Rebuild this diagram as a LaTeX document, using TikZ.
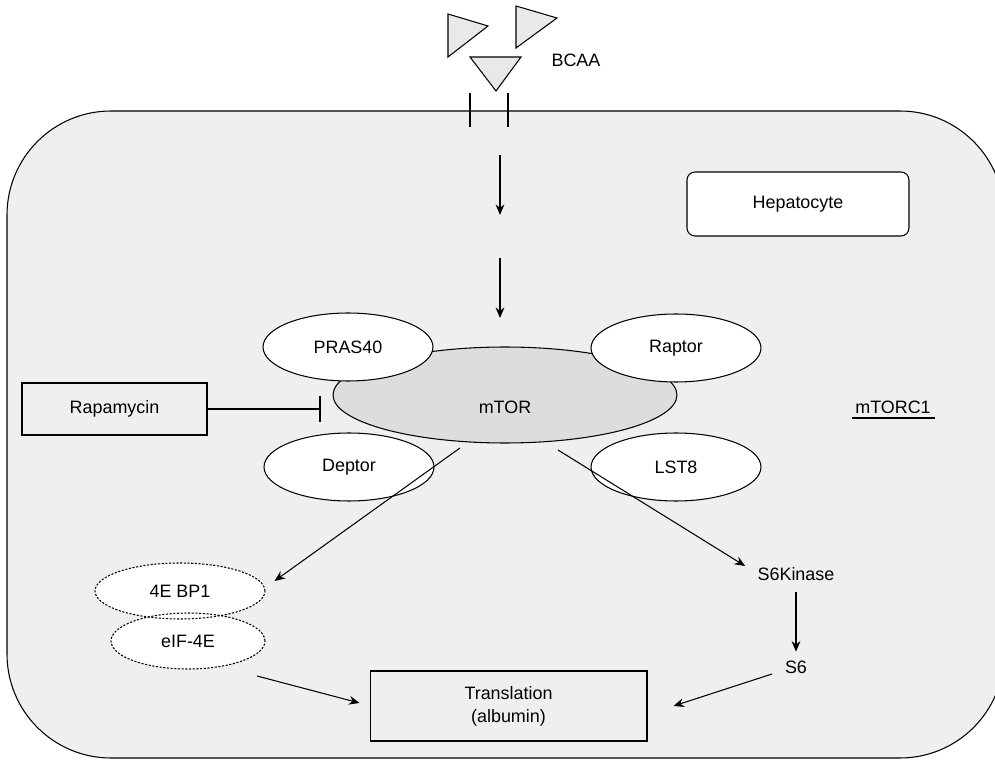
\documentclass[tikz,border=0pt]{standalone}
\usepackage{fontspec}
\setmainfont{Liberation Sans}
\usetikzlibrary{shapes.geometric,arrows.meta,calc}

\definecolor{cellgray}{RGB}{238,239,239}
\definecolor{torgray}{RGB}{220,221,221}
\definecolor{aagray}{RGB}{232,233,233}

\tikzset{
  sub/.style={ellipse, draw=black, fill=white, minimum width=3.4cm, minimum height=1.36cm, inner sep=0pt},
  dotsub/.style={ellipse, draw=black, dash pattern=on 1.2pt off 0.9pt, minimum height=1.12cm, inner sep=0pt},
  tag/.style={inner sep=0pt},
  link/.style={-{Stealth[length=6pt,width=5pt]}},
}

\begin{document}
\begin{tikzpicture}[x=0.02cm, y=-0.02cm, font=\fontsize{10.2}{13}\selectfont, line width=0.6pt]
        \useasboundingbox (0,0) rectangle (995,760);

        % cell
        \draw[fill=cellgray, rounded corners=2.08cm] (7,111) rectangle (1004,758);

        % amino acids and channel
        \filldraw[fill=aagray, draw=black] (448,14) -- (488,26) -- (448,57) -- cycle;
        \filldraw[fill=aagray, draw=black] (516,6) -- (557,18) -- (516,48) -- cycle;
        \filldraw[fill=aagray, draw=black] (470,57) -- (521,57) -- (496,91) -- cycle;
        \node[tag] (bcaa) at (576,60) {BCAA};
        \draw (470,93) -- (470,127);
        \draw (508,93) -- (508,127);

        \coordinate (in1) at (500,155);
        \coordinate (in2) at (500,215);
        \coordinate (in3) at (500,258);
        \coordinate (in4) at (500,318);
        \draw[link] (in1) -- (in2);
        \draw[link] (in3) -- (in4);

        \node[draw, fill=white, rounded corners=0.16cm, minimum width=4.44cm, minimum height=1.28cm] (hep) at (798,204) {Hepatocyte};

        % mTORC1 complex
        \node[ellipse, draw, fill=torgray, minimum width=6.88cm, minimum height=1.92cm, label={[yshift=-0.24cm]center:mTOR}] (mtor) at (505,395) {};
        \node[sub] (pras) at (348,347) {PRAS40};
        \node[sub] (raptor) at (676,348) {Raptor};
        \node[sub] (deptor) at (349,467) {Deptor};
        \node[sub] (lst) at (676,467) {LST8};

        \node[tag] (torc) at (893,407) {mTORC1};
        \draw ($(torc.center)+(-41,11)$) -- ($(torc.center)+(42,11)$);

        \node[draw, minimum width=3.7cm, minimum height=1.04cm] (rapa) at (114.5,409) {Rapamycin};
        \draw[-{Bar[width=0.54cm]}, shorten >=0.24cm] (rapa.east) -- (rapa.east -| mtor.west);

        % 4E BP1 / eIF-4E
        \fill[white] (180,591) ellipse [x radius=85, y radius=28];
        \fill[white] (188,641) ellipse [x radius=77, y radius=28];
        \node[dotsub, minimum width=3.4cm] (bp1) at (180,591) {4E BP1};
        \node[dotsub, minimum width=3.08cm] (eif) at (188,641) {eIF-4E};

        % S6 branch
        \node[tag] (s6k) at (796,574) {S6Kinase};
        \node[tag] (s6) at (796,667) {S6};

        \node[draw, minimum width=5.54cm, minimum height=1.4cm, align=center] (box) at (508.5,706) {Translation\\(albumin)};

        \coordinate (out1) at (460,448);
        \coordinate (out2) at (558,450);
        \coordinate (eifout) at (257,676);
        \coordinate (s6out) at (772,674);
        \draw[link] (out1) -- ($(bp1.east)+(9,-10)$);
        \draw[link] (out2) -- ($(s6k.west)+(-12,-8)$);
        \draw[link, shorten <=0.22cm, shorten >=0.17cm] (s6k.south) -- (s6.north);
        \draw[link] (s6out) -- ($(box.east)+(26,0)$);
        \draw[link] (eifout) -- ($(box.west)+(-10,-3)$);
\end{tikzpicture}
\end{document}
